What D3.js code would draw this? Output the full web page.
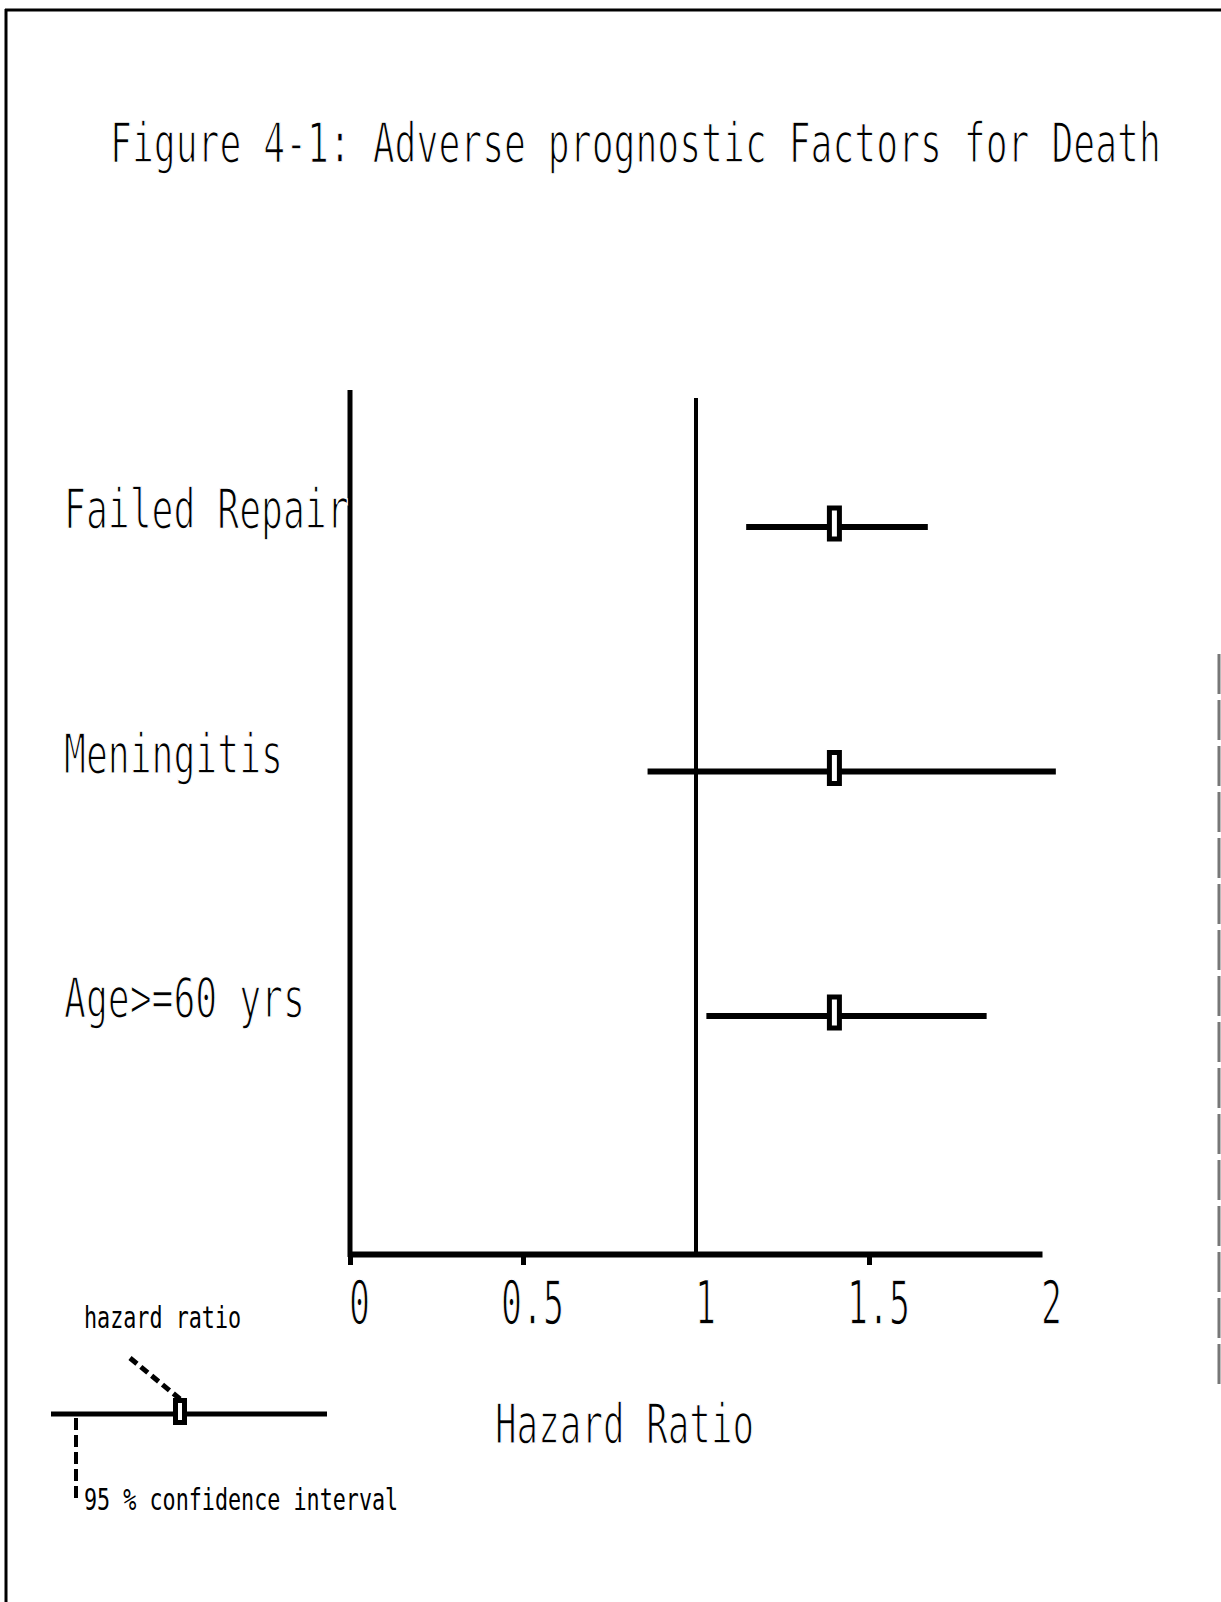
<!DOCTYPE html>
<html>
<head>
<meta charset="utf-8">
<script src="https://cdn.jsdelivr.net/npm/d3@7"></script>
<style>
  html, body { margin: 0; padding: 0; background: #fff; }
  svg { display: block; }
  text { font-family: "DejaVu Sans Mono", "Liberation Mono", monospace; fill: #000;
         stroke: #fff; stroke-width: 1.6px; paint-order: normal; }
  text.small { stroke: none; }
</style>
</head>
<body>
<script>
// Forest plot of hazard ratios with 95% confidence intervals
const categories = ["Failed Repair", "Meningitis", "Age>=60 yrs"];
const hazardRatio = [1.40, 1.40, 1.40];
const ciLower = [1.145, 0.86, 1.03];
const ciUpper = [1.67, 2.04, 1.84];
const tickValues = [0, 0.5, 1, 1.5, 2];
const tickLabels = ["0", "0.5", "1", "1.5", "2"];
const titleText = "Figure 4-1: Adverse prognostic Factors for Death";
const xAxisTitle = "Hazard Ratio";
const legendPoint = "hazard ratio";
const legendInterval = "95 % confidence interval";

const rows = categories.map((c, i) => ({
  name: c, hr: hazardRatio[i], lo: ciLower[i], hi: ciUpper[i]
}));

const W = 1221, H = 1602;
const svg = d3.select("body").append("svg").attr("width", W).attr("height", H);

// narrow fixed-pitch lettering: squeeze each string horizontally so every
// character takes the given advance
function mono(sel, pitch) {
  sel.each(function () {
    const t = d3.select(this);
    const px = +t.attr("x") || 0, py = +t.attr("y") || 0;
    const natural = this.getComputedTextLength();
    const k = natural > 0 ? (t.text().length * pitch) / natural : 1;
    t.attr("x", 0).attr("y", 0)
      .attr("transform", `translate(${px},${py}) scale(${k},1)`);
  });
  return sel;
}

// page frame
const frame = svg.append("g").attr("stroke", "#000").attr("fill", "none");
frame.append("line").attr("x1", 5).attr("x2", W).attr("y1", 10).attr("y2", 10).attr("stroke-width", 3);
frame.append("line").attr("x1", 6).attr("x2", 6).attr("y1", 9).attr("y2", H).attr("stroke-width", 3);
frame.append("line").attr("x1", 1219).attr("x2", 1219).attr("y1", 654).attr("y2", 1390)
  .attr("stroke", "#777").attr("stroke-width", 3).attr("stroke-dasharray", "40,6");

// title
mono(svg.append("text").attr("x", 110).attr("y", 162).attr("font-size", 56).text(titleText), 21.9);

// scales
const x = d3.scaleLinear().domain([0, 2]).range([350, 1042]);
const y = d3.scalePoint().domain(categories).range([527, 1016]);
const axisY = 1254;

// vertical axis and null line at HR = 1
svg.append("line").attr("x1", x(0)).attr("x2", x(0)).attr("y1", 390).attr("y2", axisY + 3)
  .attr("stroke", "#000").attr("stroke-width", 5);
svg.append("line").attr("x1", x(1)).attr("x2", x(1)).attr("y1", 398).attr("y2", axisY)
  .attr("stroke", "#000").attr("stroke-width", 4);

// horizontal axis
const xAxis = d3.axisBottom(x)
  .tickValues(tickValues)
  .tickFormat((d, i) => tickLabels[i])
  .tickSizeInner(11)
  .tickSizeOuter(0);
const gx = svg.append("g").attr("transform", `translate(0,${axisY})`).call(xAxis);
gx.attr("font-family", null).attr("font-size", null);
gx.select(".domain").attr("stroke", "#000").attr("stroke-width", 6);
gx.selectAll(".tick line").attr("stroke", "#000").attr("stroke-width", 5)
  .attr("display", d => (d === 1 || d === 2) ? "none" : null);
gx.selectAll(".tick text")
  .attr("font-size", 60)
  .attr("y", 70).attr("dy", null).attr("x", 9)
  .attr("fill", "#000");
mono(gx.selectAll(".tick text"), 21);

// axis title
mono(svg.append("text").attr("x", 495).attr("y", 1443).attr("font-size", 56).text(xAxisTitle), 21.6);

// row labels
mono(svg.append("g").selectAll("text").data(rows).join("text")
  .attr("x", 64).attr("y", d => y(d.name) + 1).attr("font-size", 56).text(d => d.name), 21.9);

// confidence intervals
svg.append("g").selectAll("line").data(rows).join("line")
  .attr("x1", d => x(d.lo)).attr("x2", d => x(d.hi))
  .attr("y1", d => y(d.name)).attr("y2", d => y(d.name))
  .attr("stroke", "#000").attr("stroke-width", 6);

// hazard ratio markers
svg.append("g").selectAll("rect").data(rows).join("rect")
  .attr("x", d => x(d.hr) - 5).attr("y", d => y(d.name) - 19)
  .attr("width", 10).attr("height", 31)
  .attr("fill", "#fff").attr("stroke", "#000").attr("stroke-width", 5);

// key
const key = svg.append("g");
key.append("line").attr("x1", 51).attr("x2", 327).attr("y1", 1414).attr("y2", 1414)
  .attr("stroke", "#000").attr("stroke-width", 5);
key.append("line").attr("x1", 130).attr("y1", 1358).attr("x2", 180).attr("y2", 1399)
  .attr("stroke", "#000").attr("stroke-width", 5).attr("stroke-dasharray", "9,5");
key.append("line").attr("x1", 76).attr("y1", 1418).attr("x2", 76).attr("y2", 1502)
  .attr("stroke", "#000").attr("stroke-width", 4).attr("stroke-dasharray", "12,5");
key.append("rect").attr("x", 175.5).attr("y", 1400.5).attr("width", 9).attr("height", 22)
  .attr("fill", "#fff").attr("stroke", "#000").attr("stroke-width", 5);
mono(key.append("text").attr("class", "small").attr("x", 84).attr("y", 1328).attr("font-size", 31).text(legendPoint), 13.1);
mono(key.append("text").attr("class", "small").attr("x", 84).attr("y", 1510).attr("font-size", 31).text(legendInterval), 13.1);
</script>
</body>
</html>
